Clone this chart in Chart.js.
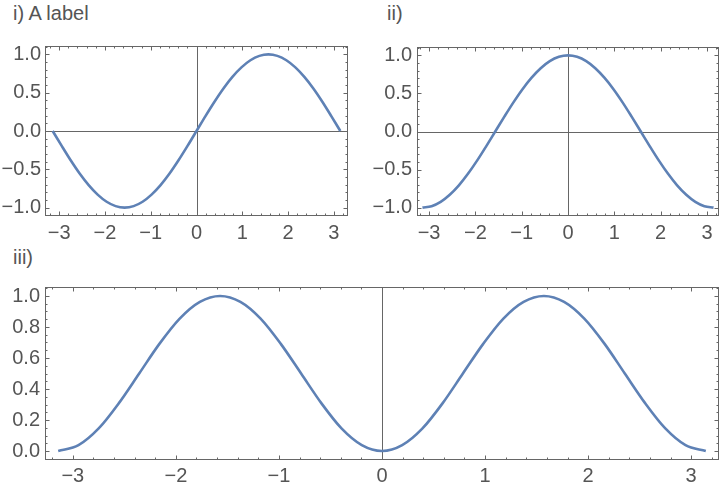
<!DOCTYPE html>
<html>
<head>
<meta charset="utf-8">
<script src="https://cdn.jsdelivr.net/npm/chart.js@4.4.1/dist/chart.umd.min.js"></script>
<style>
  body { margin: 0; background: #fff; }
  #wrap { position: relative; width: 720px; height: 488px; overflow: hidden; }
  canvas { position: absolute; }
  .lbl { position: absolute; font: 20px "Liberation Sans", Arial, sans-serif; color: #555; white-space: pre; }
</style>
</head>
<body>
<div id="wrap">
  <div class="lbl" style="left:13px; top:2px;">i) A label</div>
  <div class="lbl" style="left:387px; top:2px;">ii)</div>
  <div class="lbl" style="left:13px; top:246px;">iii)</div>
  <canvas id="c1" width="360" height="220" style="left:0; top:30px;"></canvas>
  <canvas id="c2" width="360" height="220" style="left:360px; top:30px;"></canvas>
  <canvas id="c3" width="720" height="218" style="left:0; top:270px;"></canvas>
</div>
<script>
// valores
var xs = [-3.142, -2.945, -2.749, -2.553, -2.356, -2.160, -1.963, -1.767, -1.571, -1.374, -1.178, -0.982, -0.785, -0.589, -0.393, -0.196,
          0, 0.196, 0.393, 0.589, 0.785, 0.982, 1.178, 1.374, 1.571, 1.767, 1.963, 2.160, 2.356, 2.553, 2.749, 2.945, 3.142];
var serieA = [0, -0.195, -0.383, -0.556, -0.707, -0.831, -0.924, -0.981, -1.000, -0.981, -0.924, -0.831, -0.707, -0.556, -0.383, -0.195,
              0, 0.195, 0.383, 0.556, 0.707, 0.831, 0.924, 0.981, 1.000, 0.981, 0.924, 0.831, 0.707, 0.556, 0.383, 0.195, 0];
var serieB = [-1.000, -0.981, -0.924, -0.831, -0.707, -0.556, -0.383, -0.195, 0, 0.195, 0.383, 0.556, 0.707, 0.831, 0.924, 0.981,
              1.000, 0.981, 0.924, 0.831, 0.707, 0.556, 0.383, 0.195, 0, -0.195, -0.383, -0.556, -0.707, -0.831, -0.924, -0.981, -1.000];
var serieC = [0, 0.038, 0.146, 0.309, 0.500, 0.691, 0.854, 0.962, 1.000, 0.962, 0.854, 0.691, 0.500, 0.309, 0.146, 0.038,
              0, 0.038, 0.146, 0.309, 0.500, 0.691, 0.854, 0.962, 1.000, 0.962, 0.854, 0.691, 0.500, 0.309, 0.146, 0.038, 0];

var xTicks = [-3, -2, -1, 0, 1, 2, 3];
var yTicksArriba = [-1, -0.5, 0, 0.5, 1];
var yTicksAbajo = [0, 0.2, 0.4, 0.6, 0.8, 1];

var FUENTE = { family: '"Liberation Sans", Arial, sans-serif', size: 20 };
var GRIS = '#666';

function menos(s) { return s.replace('-', '\u2212'); }

// marco, marcas interiores y ejes
var marco = {
    id: 'marco',
    beforeDatasetsDraw: function (chart, args, o) {
        var ctx = chart.ctx, a = chart.chartArea, sx = chart.scales.x, sy = chart.scales.y;
        ctx.save();
        ctx.strokeStyle = GRIS;
        ctx.lineWidth = 1;
        ctx.beginPath();
        if (o.ejeX) {
            var py = Math.round(sy.getPixelForValue(0)) + 0.5;
            ctx.moveTo(a.left, py); ctx.lineTo(a.right, py);
        }
        var px = Math.round(sx.getPixelForValue(0)) + 0.5;
        ctx.moveTo(px, a.top); ctx.lineTo(px, a.bottom);
        ctx.stroke();
        ctx.restore();
    },
    afterDraw: function (chart, args, o) {
        var ctx = chart.ctx, a = chart.chartArea, sx = chart.scales.x, sy = chart.scales.y;
        ctx.save();
        ctx.strokeStyle = GRIS;
        ctx.lineWidth = 1;
        var l = Math.round(a.left) + 0.5, r = Math.round(a.right) - 0.5;
        var t = Math.round(a.top) + 0.5, b = Math.round(a.bottom) - 0.5;
        ctx.strokeRect(l, t, r - l, b - t);
        ctx.beginPath();
        var v, p, len;
        for (v = Math.ceil(sx.min / o.menorX) * o.menorX; v <= sx.max; v += o.menorX) {
            p = Math.round(sx.getPixelForValue(v)) + 0.5;
            len = Math.abs(v - Math.round(v / o.mayorX) * o.mayorX) < 1e-6 ? 4 : 2;
            ctx.moveTo(p, b); ctx.lineTo(p, b - len);
            ctx.moveTo(p, t); ctx.lineTo(p, t + len);
        }
        for (v = Math.ceil(sy.min / o.menorY) * o.menorY; v <= sy.max; v += o.menorY) {
            p = Math.round(sy.getPixelForValue(v)) + 0.5;
            len = Math.abs(v - Math.round(v / o.mayorY) * o.mayorY) < 1e-6 ? 4 : 2;
            ctx.moveTo(l, p); ctx.lineTo(l + len, p);
            ctx.moveTo(r, p); ctx.lineTo(r - len, p);
        }
        ctx.stroke();
        ctx.restore();
    }
};

function crearGrafico(id, ys, cfg) {
    var puntos = xs.map(function (x, i) { return { x: x, y: ys[i] }; });
    new Chart(document.getElementById(id).getContext('2d'), {
        type: 'line',
        data: {
            datasets: [{
                data: puntos,
                borderColor: '#5E81B5',
                borderWidth: 2.6,
                pointRadius: 0,
                cubicInterpolationMode: 'monotone',
                fill: false
            }]
        },
        options: {
            responsive: false,
            animation: false,
            layout: { padding: { left: 0, right: cfg.derecha, top: cfg.arriba, bottom: 0 } },
            plugins: {
                legend: { display: false },
                tooltip: { enabled: false },
                marco: { ejeX: cfg.ejeX, menorX: 0.2, mayorX: 1, menorY: cfg.menorY, mayorY: cfg.mayorY }
            },
            scales: {
                x: {
                    type: 'linear',
                    min: cfg.xmin, max: cfg.xmax,
                    grid: { display: false, drawTicks: false },
                    border: { display: false },
                    afterBuildTicks: function (s) { s.ticks = xTicks.map(function (v) { return { value: v }; }); },
                    afterFit: function (s) { s.height = cfg.altoX; },
                    ticks: {
                        autoSkip: false, maxRotation: 0, padding: cfg.padX,
                        font: FUENTE, color: '#555',
                        callback: function (v) { return menos(String(v)); }
                    }
                },
                y: {
                    type: 'linear',
                    min: cfg.ymin, max: cfg.ymax,
                    grid: { display: false, drawTicks: false },
                    border: { display: false },
                    afterBuildTicks: function (s) { s.ticks = cfg.yTicks.map(function (v) { return { value: v }; }); },
                    afterFit: function (s) { s.width = cfg.anchoY; },
                    ticks: {
                        padding: cfg.padY,
                        font: FUENTE, color: '#555',
                        callback: function (v) { return menos(v.toFixed(1)); }
                    }
                }
            }
        },
        plugins: [marco]
    });
}

crearGrafico('c1', serieA, { xmin: -3.31, xmax: 3.31, ymin: -1.11, ymax: 1.11, yTicks: yTicksArriba,
    menorY: 0.1, mayorY: 0.5, ejeX: true, anchoY: 45, altoX: 34, arriba: 13, derecha: 12, padX: 5, padY: 4 });
crearGrafico('c2', serieB, { xmin: -3.26, xmax: 3.26, ymin: -1.11, ymax: 1.11, yTicks: yTicksArriba,
    menorY: 0.1, mayorY: 0.5, ejeX: true, anchoY: 57, altoX: 34, arriba: 13, derecha: 1, padX: 5, padY: 5 });
crearGrafico('c3', serieC, { xmin: -3.27, xmax: 3.27, ymin: -0.058, ymax: 1.058, yTicks: yTicksAbajo,
    menorY: 0.05, mayorY: 0.2, ejeX: false, anchoY: 45, altoX: 28, arriba: 17, derecha: 1, padX: 4, padY: 5 });
</script>
</body>
</html>
